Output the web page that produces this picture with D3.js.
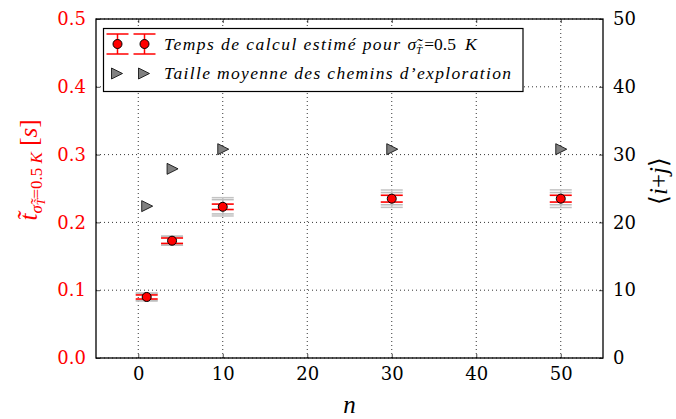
<!DOCTYPE html>
<html>
<head>
    <title>Temps de calcul</title>
    <script src="https://d3js.org/d3.v7.min.js"></script>
    <style>
        body { margin: 0; background: #fff; }
        svg { display: block; }
    </style>
</head>
<body>
    <svg id="chart"></svg>
    <script>
        // data
        const nValues = [1, 4, 10, 30, 50];
        const tMean = [0.090, 0.173, 0.223, 0.235, 0.235];
        const tErrRed = [0.003, 0.004, 0.004, 0.005, 0.005];
        const tErrGrayA = [0.005, 0.0066, 0.0105, 0.009, 0.009];
        const tErrGrayB = [0.006, 0.0066, 0.0135, 0.0128, 0.013];
        const pathSize = [22.4, 27.9, 30.8, 30.8, 30.8];

        const xTicks = [0, 10, 20, 30, 40, 50];
        const yLeftTicks = [0.0, 0.1, 0.2, 0.3, 0.4, 0.5];
        const yRightTicks = [0, 10, 20, 30, 40, 50];

        const width = 676, height = 419;
        const margin = {top: 19, right: 73, bottom: 61, left: 96};
        const tickFont = "DejaVu Serif";
        const mathFont = "Liberation Serif";

        const svg = d3.select("#chart")
            .attr("width", width)
            .attr("height", height);

        const x = d3.scaleLinear().domain([-5, 55]).range([margin.left, width - margin.right]);
        const yL = d3.scaleLinear().domain([0, 0.5]).range([height - margin.bottom, margin.top]);
        const yR = d3.scaleLinear().domain([0, 50]).range([height - margin.bottom, margin.top]);

        const x0 = margin.left, x1 = width - margin.right;
        const y0 = height - margin.bottom, y1 = margin.top;

        // grid (dotted)
        const grid = svg.append("g");
        grid.selectAll("line.gx").data(xTicks).join("line")
            .attr("x1", d => x(d)).attr("x2", d => x(d))
            .attr("y1", y0).attr("y2", y1)
            .attr("stroke", "#000").attr("stroke-width", 0.8)
            .attr("stroke-dasharray", "1,3");
        grid.selectAll("line.gy").data(yLeftTicks).join("line")
            .attr("x1", x0).attr("x2", x1)
            .attr("y1", d => yL(d)).attr("y2", d => yL(d))
            .attr("stroke", "#000").attr("stroke-width", 0.8)
            .attr("stroke-dasharray", "1,3");

        // axes (ticks inward, classic look)
        const axB = svg.append("g").attr("transform", `translate(0,${y0})`)
            .call(d3.axisBottom(x).tickValues(xTicks).tickSizeInner(-4).tickSizeOuter(0).tickPadding(9).tickFormat(d3.format("d")));
        const axT = svg.append("g").attr("transform", `translate(0,${y1})`)
            .call(d3.axisTop(x).tickValues(xTicks).tickSizeInner(-4).tickSizeOuter(0).tickFormat(""));
        const axL = svg.append("g").attr("transform", `translate(${x0},0)`)
            .call(d3.axisLeft(yL).tickValues(yLeftTicks).tickSizeInner(-4).tickSizeOuter(0).tickPadding(10).tickFormat(d3.format(".1f")));
        const axR = svg.append("g").attr("transform", `translate(${x1},0)`)
            .call(d3.axisRight(yR).tickValues(yRightTicks).tickSizeInner(-4).tickSizeOuter(0).tickPadding(10).tickFormat(d3.format("d")));

        [axB, axT, axL, axR].forEach(a => {
            a.attr("font-family", tickFont).attr("font-size", 18);
            a.select(".domain").remove();
            a.selectAll(".tick line").attr("stroke", "#000").attr("stroke-width", 0.7);
            a.selectAll(".tick text").attr("fill", "#000").attr("font-family", tickFont);
        });
        axL.selectAll(".tick text").attr("fill", "red");

        // frame
        svg.append("rect")
            .attr("x", x0).attr("y", y1)
            .attr("width", x1 - x0).attr("height", y0 - y1)
            .attr("fill", "none").attr("stroke", "#000").attr("stroke-width", 1.3);

        const cap = 11;
        const pts = nValues.map((n, i) => ({n, t: tMean[i], er: tErrRed[i], ga: tErrGrayA[i], gb: tErrGrayB[i], p: pathSize[i]}));

        // error bars, grey ones under the red ones
        function drawBars(g, key, color, sw) {
            const sel = g.selectAll("g").data(pts).join("g");
            sel.append("line")
                .attr("x1", d => x(d.n)).attr("x2", d => x(d.n))
                .attr("y1", d => yL(d.t - d[key])).attr("y2", d => yL(d.t + d[key]))
                .attr("stroke", color).attr("stroke-width", sw);
            [-1, 1].forEach(s => {
                sel.append("line")
                    .attr("x1", d => x(d.n) - cap).attr("x2", d => x(d.n) + cap)
                    .attr("y1", d => yL(d.t + s * d[key])).attr("y2", d => yL(d.t + s * d[key]))
                    .attr("stroke", color).attr("stroke-width", sw);
            });
        }
        const bars = svg.append("g");
        drawBars(bars.append("g"), "gb", "#c4c4c4", 1.5);
        drawBars(bars.append("g"), "ga", "#bdbdbd", 1.5);
        drawBars(bars.append("g"), "er", "red", 1.6);

        // red markers
        svg.append("g").selectAll("circle").data(pts).join("circle")
            .attr("cx", d => x(d.n)).attr("cy", d => yL(d.t)).attr("r", 4.5)
            .attr("fill", "red").attr("stroke", "#000").attr("stroke-width", 1);

        // grey triangles on the right axis
        const tri = "M-5,-5.5L6,0L-5,5.5Z";
        svg.append("g").selectAll("path").data(pts).join("path")
            .attr("d", tri)
            .attr("transform", d => `translate(${x(d.n)},${yR(d.p)})`)
            .attr("fill", "#808080").attr("stroke", "#000").attr("stroke-width", 0.8);

        // legend
        const lg = svg.append("g");
        lg.append("rect").attr("x", 103.5).attr("y", 28.5).attr("width", 419.5).attr("height", 63)
            .attr("fill", "#fff").attr("stroke", "#000").attr("stroke-width", 1.2);
        [117.5, 144.5].forEach(cx => {
            lg.append("line").attr("x1", cx).attr("x2", cx).attr("y1", 34).attr("y2", 54)
                .attr("stroke", "red").attr("stroke-width", 1.5);
            [34, 54].forEach(cy => lg.append("line").attr("x1", cx - cap).attr("x2", cx + cap)
                .attr("y1", cy).attr("y2", cy).attr("stroke", "red").attr("stroke-width", 1.5));
            lg.append("circle").attr("cx", cx).attr("cy", 44).attr("r", 4.5)
                .attr("fill", "red").attr("stroke", "#000").attr("stroke-width", 1);
            lg.append("path").attr("d", tri).attr("transform", `translate(${cx - 1},73.5)`)
                .attr("fill", "#808080").attr("stroke", "#000").attr("stroke-width", 0.8);
        });
        const legText = lg.append("text").attr("x", 164).attr("y", 49.5)
            .attr("font-family", mathFont).attr("font-style", "italic").attr("font-size", 17.5);
        legText.append("tspan").attr("textLength", 236).attr("lengthAdjust", "spacing")
            .text("Temps de calcul estimé pour");
        legText.append("tspan").attr("dx", 6).text("σ\u0303");
        legText.append("tspan").attr("font-size", 11).attr("dy", 4).text("T\u0303");
        legText.append("tspan").attr("dy", -4).attr("font-style", "normal").attr("dx", 2).text("=0.5");
        legText.append("tspan").attr("dx", 9).text("K");
        lg.append("text").attr("x", 164).attr("y", 79)
            .attr("font-family", mathFont).attr("font-style", "italic").attr("font-size", 17.5)
            .attr("textLength", 347).attr("lengthAdjust", "spacing")
            .text("Taille moyenne des chemins d\u2019exploration");

        // axis titles
        svg.append("text").attr("x", (x0 + x1) / 2).attr("y", 413)
            .attr("text-anchor", "middle").attr("font-family", mathFont)
            .attr("font-style", "italic").attr("font-size", 25).text("n");

        const yl = svg.append("text")
            .attr("transform", `translate(37,170) rotate(-90)`)
            .attr("text-anchor", "middle").attr("fill", "red")
            .attr("font-family", mathFont).attr("font-size", 25);
        yl.append("tspan").attr("font-style", "italic").text("t\u0303");
        yl.append("tspan").attr("font-style", "italic").attr("font-size", 17).attr("dy", 5).text("σ\u0303");
        yl.append("tspan").attr("font-style", "italic").attr("font-size", 12).attr("dy", 3).text("T\u0303");
        yl.append("tspan").attr("font-size", 17).attr("dy", -3).text("=0.5 ");
        yl.append("tspan").attr("font-style", "italic").attr("font-size", 17).text("K");
        yl.append("tspan").attr("dy", -5).text(" [");
        yl.append("tspan").attr("font-style", "italic").text("s");
        yl.append("tspan").text("]");

        const yr = svg.append("text")
            .attr("transform", `translate(667,181) rotate(-90)`)
            .attr("text-anchor", "middle").attr("fill", "#000")
            .attr("font-family", mathFont).attr("font-size", 25);
        yr.append("tspan").text("\u27E8");
        yr.append("tspan").attr("font-style", "italic").text("i");
        yr.append("tspan").text("+");
        yr.append("tspan").attr("font-style", "italic").text("j");
        yr.append("tspan").text("\u27E9");
    </script>
</body>
</html>
